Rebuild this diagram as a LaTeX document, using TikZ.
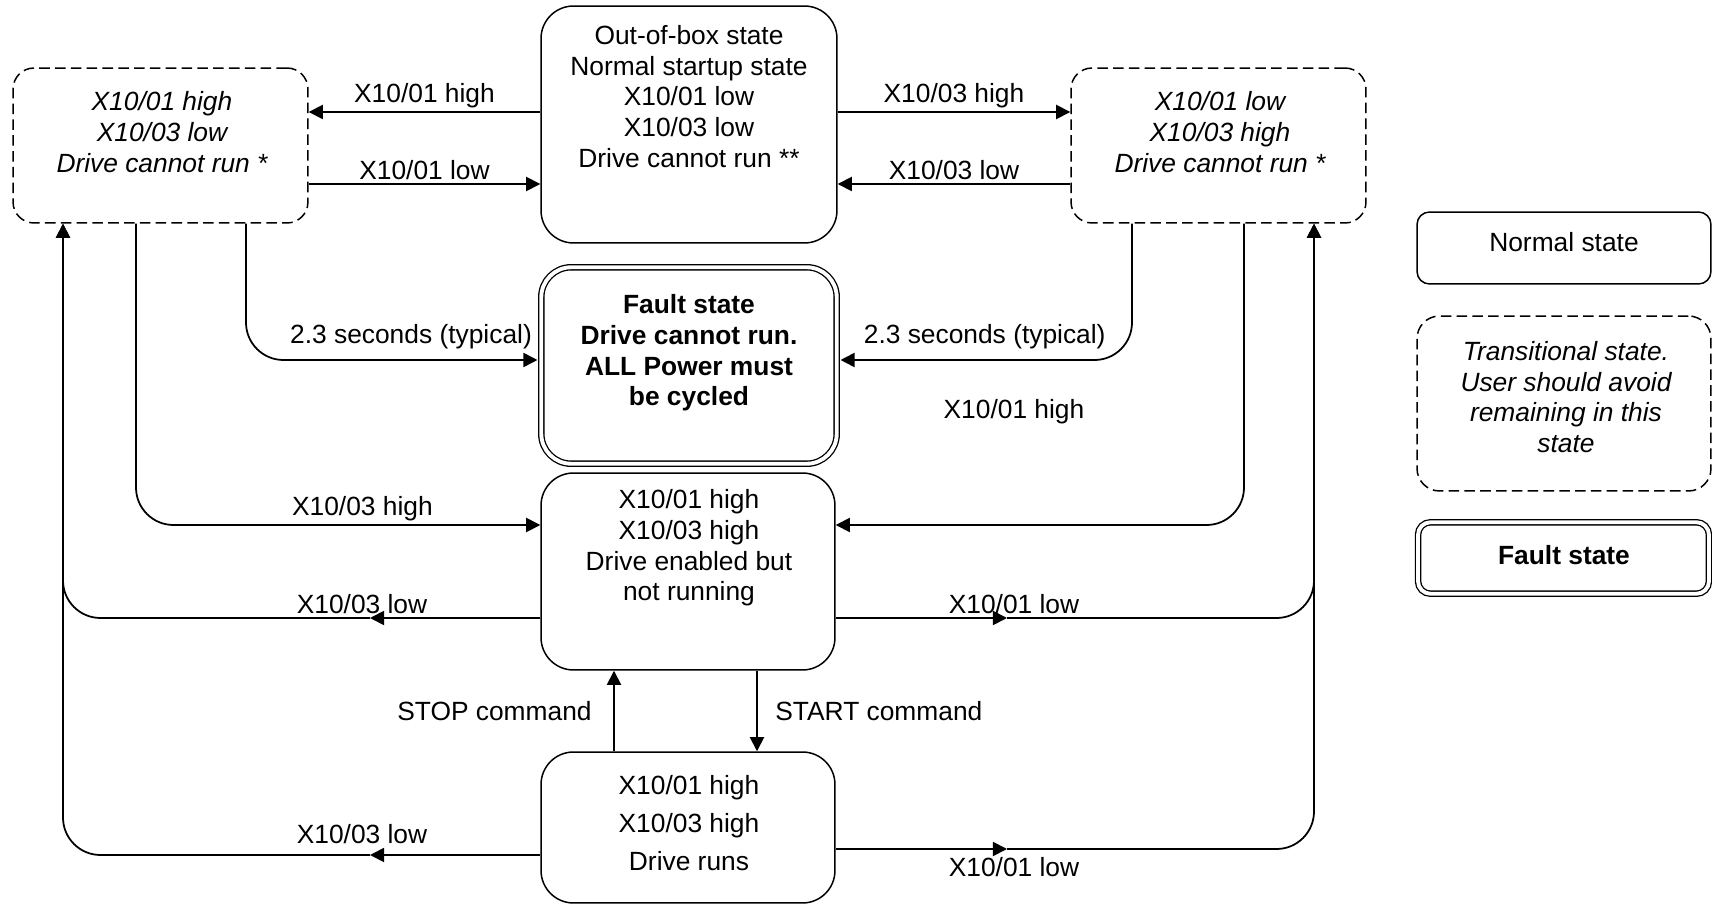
\documentclass[tikz,border=0pt]{standalone}
\usepackage{fontspec}
\setmainfont{Liberation Sans}
\usepackage{xcolor}
\usetikzlibrary{positioning,arrows.meta}
\definecolor{ink}{HTML}{000000}
\newcommand{\boxfont}{\fontsize{15pt}{17.5pt}\selectfont}

\tikzset{
  normalbox/.style={draw=ink, line width=0.85pt, rounded corners=0.65cm, minimum width=5.9cm, inner sep=0pt},
  transbox/.style={normalbox, dash pattern=on 6pt off 3pt, rounded corners=0.42cm},
  faultbox/.style={normalbox, line width=0.75pt, double=white, double distance=2.2pt, rounded corners=0.6cm},
  txt/.style={align=center, text=ink, font=\boxfont, inner sep=0pt},
  lbl/.style={text=ink, font=\boxfont, inner sep=2pt},
  wire/.style={draw=ink, line width=1pt, rounded corners=0.75cm},
  flow/.style={wire, -{Triangle[length=8pt,width=8pt]}}
}

\begin{document}
\begin{tikzpicture}[x=0.02cm, y=-0.02cm]
  \useasboundingbox (0,0) rectangle (1712,905);

  \node[normalbox, minimum width=5.92cm, minimum height=4.74cm] (outbox) at (689,124.5) {};
  \node[txt] (outtxt) at (689,96.5) {Out-of-box state\\Normal startup state\\X10/01 low\\X10/03 low\\Drive cannot run **};

  \node[transbox, minimum height=3.1cm] (trans01) at (160.5,145.5) {};
  \node[txt, font=\boxfont\itshape] (trans01txt) at (162,132) {X10/01 high\\X10/03 low\\Drive cannot run *};

  \node[transbox, minimum height=3.1cm] (trans03) at (1218.5,145.5) {};
  \node[txt, font=\boxfont\itshape] (trans03txt) at (1220,132) {X10/01 low\\X10/03 high\\Drive cannot run *};

  \node[faultbox, minimum width=5.91cm, minimum height=3.93cm] (fault) at (689,365.5) {};
  \node[txt, font=\boxfont\bfseries] (faulttxt) at (689,353) {Fault state\\Drive cannot run.\\ALL Power must\\be cycled};

  \node[normalbox, minimum width=5.88cm, minimum height=3.94cm] (enabled) at (688,571.5) {};
  \node[txt] (enabledtxt) at (689,548) {X10/01 high\\X10/03 high\\Drive enabled but\\not running};

  \node[normalbox, minimum width=5.88cm, minimum height=3.02cm] (runs) at (688,827.5) {};
  \node[txt, font=\fontsize{15pt}{21.8pt}\selectfont] (runstxt) at (689,823) {X10/01 high\\X10/03 high\\Drive runs};

  \node[normalbox, minimum width=5.88cm, minimum height=1.44cm, rounded corners=0.25cm] (keynormal) at (1564,248) {};
  \node[txt] (keynormaltxt) at (1564,242) {Normal state};
  \node[transbox, minimum width=5.88cm, minimum height=3.5cm, rounded corners=0.45cm] (keytrans) at (1564,403.5) {};
  \node[txt, font=\boxfont\itshape] (keytranstxt) at (1566,397) {Transitional state.\\User should avoid\\remaining in this\\state};
  \node[faultbox, minimum width=5.82cm, minimum height=1.43cm, rounded corners=0.25cm] (keyfault) at (1563.5,558) {};
  \node[txt, font=\boxfont\bfseries] (keyfaulttxt) at (1564,555) {Fault state};

  \draw[flow] (outbox.west |- 0,112) -- node[lbl, above] (lblA) {X10/01 high} (trans01.east |- 0,112);
  \draw[flow] (trans01.east |- 0,184) -- node[lbl, above] (lblB) {X10/01 low} (outbox.west |- 0,184);
  \draw[flow] (outbox.east |- 0,112) -- node[lbl, above] (lblC) {X10/03 high} (trans03.west |- 0,112);
  \draw[flow] (trans03.west |- 0,184) -- node[lbl, above] (lblD) {X10/03 low} (outbox.east |- 0,184);

  \draw[flow, shorten >=1.8pt] (trans01.south -| 246,0) |- node[lbl, pos=0.78, above=4pt] (lblE) {2.3 seconds (typical)} (fault.west |- 0,360);
  \draw[flow, shorten >=1.8pt] (trans03.south -| 1132,0) |- node[lbl, pos=0.75, above=4pt] (lblF) {2.3 seconds (typical)} (fault.east |- 0,360);

  \draw[flow] (trans01.south -| 136,0) |- node[lbl, pos=0.78, above] (lblG) {X10/03 high} (enabled.west |- 0,525);
  \draw[flow] (trans03.south -| 1244,0) |- (enabled.east |- 0,525);
  \node[lbl] (lblH) at (1014,412) {X10/01 high};

  \coordinate (tipL1) at (370,618);
  \coordinate (tipL2) at (370,855);
  \coordinate (tipR1) at (1007,618);
  \coordinate (tipR2) at (1007,849);

  \draw[flow] (enabled.west |- tipL1) -- (tipL1) node[lbl, above, xshift=-0.16cm] (lblI) {X10/03 low};
  \draw[flow] (tipL1) -| (trans01.south -| 63,0);
  \draw[flow] (runs.west |- tipL2) -- (tipL2) node[lbl, above=4pt, xshift=-0.16cm] (lblJ) {X10/03 low};
  \draw[flow] (tipL2) -| (trans01.south -| 63,0);

  \draw[flow] (enabled.east |- tipR1) -- (tipR1) node[lbl, above, xshift=0.14cm] (lblK) {X10/01 low};
  \draw[flow] (tipR1) -| (trans03.south -| 1314,0);
  \draw[flow] (runs.east |- tipR2) -- (tipR2) node[lbl, below=2pt, xshift=0.14cm] (lblL) {X10/01 low};
  \draw[flow] (tipR2) -| (trans03.south -| 1314,0);

  \draw[flow] (runs.north -| 614,0) -- node[lbl, left=0.36cm] (lblM) {STOP command} (enabled.south -| 614,0);
  \draw[flow] (enabled.south -| 757,0) -- node[lbl, right=0.28cm] (lblN) {START command} (runs.north -| 757,0);
\end{tikzpicture}
\end{document}
